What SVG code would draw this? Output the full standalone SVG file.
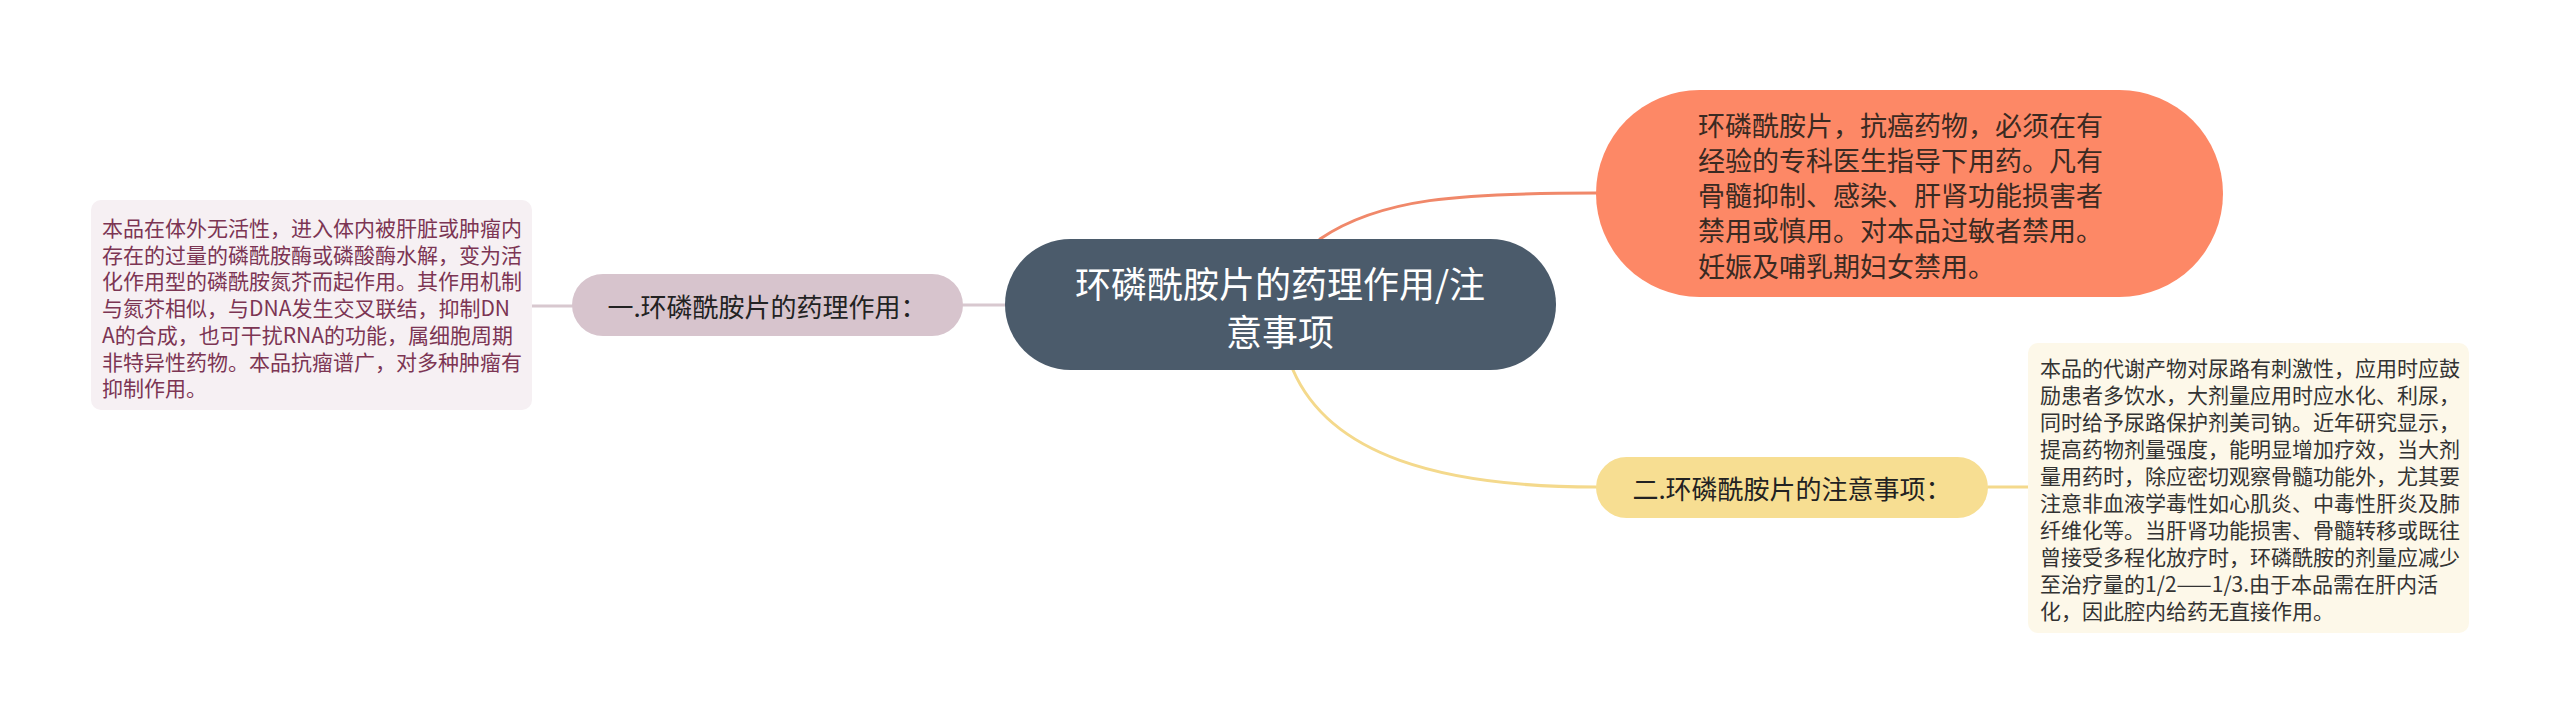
<svg xmlns="http://www.w3.org/2000/svg" width="2560" height="724" viewBox="0 0 2560 724">
<style>
text{font-family:"Noto Sans CJK SC","Noto Sans",sans-serif;dominant-baseline:central}
.c{fill:#ffffff;font-size:36px;text-anchor:middle}
.b{fill:#222222;font-size:26px;text-anchor:middle}
.o{fill:#3a2a22;font-size:27px}
.lp{fill:#7c3553;font-size:21px}
.ly{fill:#333333;font-size:21px}
.con{fill:none;stroke-width:3;stroke-linecap:round}
</style>
<rect width="2560" height="724" fill="#ffffff"/>
<g id="connectors">
<path class="con" stroke="#d8c8cf" d="M1005,305 L963,305"/>
<path class="con" stroke="#d8c8cf" d="M572,306 L532,306"/>
<path class="con" stroke="#f0886a" d="M1320,239 C1380,198 1460,193 1596,193"/>
<path class="con" stroke="#f4d98c" d="M1293,370 C1330,455 1440,487 1596,487"/>
<path class="con" stroke="#f4d98c" d="M1988,487 L2028,487"/>
</g>
<g id="center">
<rect x="1005" y="239" width="551" height="131" rx="65.5" fill="#4b5b6b"/>
<text class="c" x="1280" y="282">环磷酰胺片的药理作用/注</text>
<text class="c" x="1280" y="330">意事项</text>
</g>
<g id="node-pharmacology">
<rect x="572" y="274" width="391" height="62" rx="31" fill="#d7c4cd"/>
<text class="b" x="767" y="305">一.环磷酰胺片的药理作用：</text>
</g>
<g id="leaf-pharmacology">
<rect x="91" y="200" width="441" height="210" rx="10" fill="#f6f0f3"/>
<text class="lp" x="102" y="227">本品在体外无活性，进入体内被肝脏或肿瘤内</text>
<text class="lp" x="102" y="253.7">存在的过量的磷酰胺酶或磷酸酶水解，变为活</text>
<text class="lp" x="102" y="280.4">化作用型的磷酰胺氮芥而起作用。其作用机制</text>
<text class="lp" x="102" y="307.1">与氮芥相似，与DNA发生交叉联结，抑制DN</text>
<text class="lp" x="102" y="333.8">A的合成，也可干扰RNA的功能，属细胞周期</text>
<text class="lp" x="102" y="360.5">非特异性药物。本品抗瘤谱广，对多种肿瘤有</text>
<text class="lp" x="102" y="387.2">抑制作用。</text>
</g>
<g id="node-warning">
<rect x="1596" y="90" width="627" height="207" rx="103.5" fill="#fd8866"/>
<text class="o" x="1698" y="124">环磷酰胺片，抗癌药物，必须在有</text>
<text class="o" x="1698" y="159.3">经验的专科医生指导下用药。凡有</text>
<text class="o" x="1698" y="194.5">骨髓抑制、感染、肝肾功能损害者</text>
<text class="o" x="1698" y="229.8">禁用或慎用。对本品过敏者禁用。</text>
<text class="o" x="1698" y="265">妊娠及哺乳期妇女禁用。</text>
</g>
<g id="node-precautions">
<rect x="1596" y="457" width="392" height="61" rx="30.5" fill="#f7de92"/>
<text class="b" x="1792" y="487.5">二.环磷酰胺片的注意事项：</text>
</g>
<g id="leaf-precautions">
<rect x="2028" y="343" width="441" height="290" rx="10" fill="#fdf8e9"/>
<text class="ly" x="2040" y="367">本品的代谢产物对尿路有刺激性，应用时应鼓</text>
<text class="ly" x="2040" y="394">励患者多饮水，大剂量应用时应水化、利尿，</text>
<text class="ly" x="2040" y="421">同时给予尿路保护剂美司钠。近年研究显示，</text>
<text class="ly" x="2040" y="448">提高药物剂量强度，能明显增加疗效，当大剂</text>
<text class="ly" x="2040" y="475">量用药时，除应密切观察骨髓功能外，尤其要</text>
<text class="ly" x="2040" y="502">注意非血液学毒性如心肌炎、中毒性肝炎及肺</text>
<text class="ly" x="2040" y="529">纤维化等。当肝肾功能损害、骨髓转移或既往</text>
<text class="ly" x="2040" y="556">曾接受多程化放疗时，环磷酰胺的剂量应减少</text>
<text class="ly" x="2040" y="583">至治疗量的1/2——1/3.由于本品需在肝内活</text>
<text class="ly" x="2040" y="610">化，因此腔内给药无直接作用。</text>
</g>
</svg>
